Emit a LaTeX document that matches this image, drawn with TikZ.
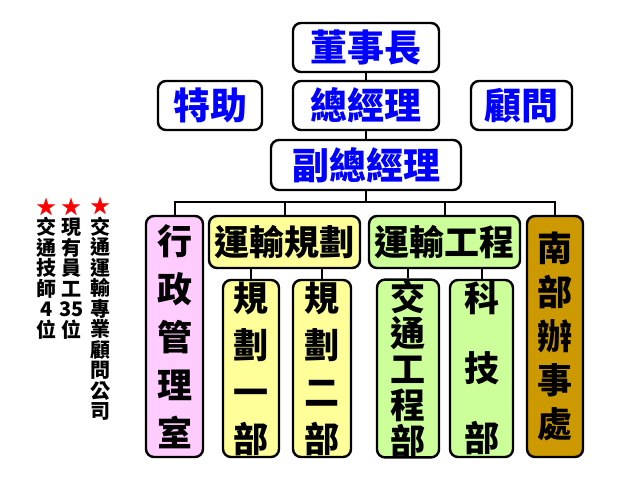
\documentclass[tikz,border=0pt]{standalone}
\usepackage{fontspec}
\newfontfamily\cjk{Noto Sans CJK TC}[BoldFont={Noto Sans CJK TC Black}]
\definecolor{pinkbox}{RGB}{255,204,255}
\definecolor{yellowbox}{RGB}{255,255,153}
\definecolor{greenbox}{RGB}{204,255,153}
\definecolor{goldbox}{RGB}{204,153,0}
\definecolor{starred}{RGB}{255,0,0}
\begin{document}
\begin{tikzpicture}[x=1pt,y=-1pt,
  box/.style={draw=black, line width=2.4pt, rounded corners=8pt, inner sep=0pt, align=center},
  topbox/.style={box, fill=white, text=blue, font=\cjk\bfseries\fontsize{37}{40}\selectfont},
  headbox/.style={box, font=\cjk\bfseries\fontsize{35}{40}\selectfont},
  vbox/.style={box, font=\cjk\bfseries\fontsize{35}{#1}\selectfont},
  conn/.style={draw=black, line width=2pt},
  note/.style={inner sep=0pt, align=center, font=\cjk\bfseries\fontsize{20}{20.5}\selectfont}]
\fill[white] (0,0) rectangle (640,480);
\useasboundingbox (0,0) rectangle (640,480);
% top
\node[topbox, minimum width=146pt, minimum height=49pt] (dsz) at (366,47.5) {董事長};
\node[topbox, minimum width=146pt, minimum height=49pt] (zjl) at (366,105.5) {總經理};
\node[topbox, minimum width=104pt, minimum height=49pt] (tz) at (210,105.5) {特助};
\node[topbox, minimum width=101pt, minimum height=49pt] (gw) at (521.5,105.5) {顧問};
\node[topbox, minimum width=190pt, minimum height=50pt] (fzjl) at (366,165) {副總經理};
% second level
\node[vbox=48, fill=pinkbox, minimum width=57pt, minimum height=241pt] (xz) at (174.5,336.5) {行\\政\\管\\理\\室};
\node[headbox, fill=yellowbox, minimum width=151pt, minimum height=52pt] (ysgh) at (284.5,242) {運輸規劃};
\node[headbox, fill=greenbox, minimum width=151pt, minimum height=52pt] (ysgc) at (444.5,242) {運輸工程};
\node[vbox=44, fill=goldbox, minimum width=56pt, minimum height=241pt] (nb) at (555,336.5) {南\\部\\辦\\事\\處};
% third level
\node[vbox=47, fill=yellowbox, minimum width=56pt, minimum height=177pt] (gh1) at (251,368.5) {規\\劃\\一\\部};
\node[vbox=47, fill=yellowbox, minimum width=58pt, minimum height=177pt] (gh2) at (322,368.5) {規\\劃\\二\\部};
\node[vbox=36, fill=greenbox, minimum width=62pt, minimum height=177pt] (jtgc) at (408,368.5) {交\\通\\工\\程\\部};
\node[vbox=70, fill=greenbox, minimum width=63pt, minimum height=177pt] (kj) at (481.5,368.5) {科\\技\\部};
% notes
\node[note] (n1) at (46.7,268.3) {\textcolor{starred}{★}\\交\\通\\技\\師\\4\\位};
\node[note] (n2) at (71.7,268.3) {\textcolor{starred}{★}\\現\\有\\員\\工\\35\\位};
\node[note] (n3) at (100.7,309.2) {\textcolor{starred}{★}\\交\\通\\運\\輸\\專\\業\\顧\\問\\公\\司};
% connectors
\coordinate (bus) at (366,202);
\draw[conn] (dsz.south) -- (zjl.north);
\draw[conn] (zjl.south) -- (fzjl.north);
\draw[conn] (fzjl.south) -- (bus);
\draw[conn] (xz.north) -- (xz.north |- bus) -- (nb.north |- bus) -- (nb.north);
\draw[conn] (ysgh.north) -- (ysgh.north |- bus);
\draw[conn] (ysgc.north) -- (ysgc.north |- bus);
\draw[conn] (gh1.north) -- (gh1.north |- ysgh.south);
\draw[conn] (gh2.north) -- (gh2.north |- ysgh.south);
\draw[conn] (jtgc.north) -- (jtgc.north |- ysgc.south);
\draw[conn] (kj.north) -- (kj.north |- ysgc.south);
\end{tikzpicture}
\end{document}
